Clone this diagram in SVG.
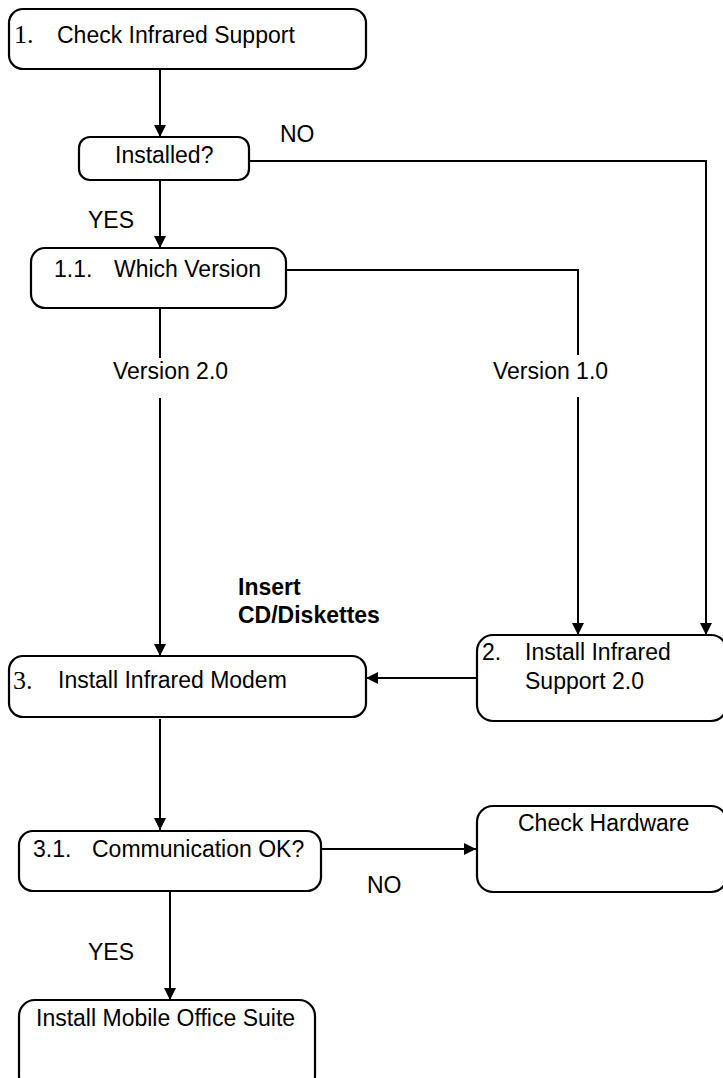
<svg xmlns="http://www.w3.org/2000/svg" width="723" height="1078" viewBox="0 0 723 1078">
<style>
.box{fill:#fff;stroke:#000;stroke-width:2.2}
.t{font-family:"Liberation Sans",Arial,sans-serif;font-size:23px;fill:#000}
.s{font-family:"Liberation Serif","Times New Roman",serif;font-size:26px;fill:#000}
.b{font-weight:bold}
.c{fill:none;stroke:#000;stroke-width:2}
</style>
<defs>
<marker id="ah" markerWidth="12" markerHeight="12" viewBox="0 0 12 12" refX="12" refY="6" orient="auto" markerUnits="userSpaceOnUse">
<path d="M0,0 L12,6 L0,12 Z" fill="#000"/>
</marker>
</defs>
<rect width="723" height="1078" fill="#fff"/>
<g id="connectors">
<line class="c" x1="160" y1="69" x2="160" y2="137" marker-end="url(#ah)"/>
<polyline class="c" points="249,161 706,161 706,635" marker-end="url(#ah)"/>
<line class="c" x1="160" y1="180" x2="160" y2="248" marker-end="url(#ah)"/>
<polyline class="c" points="286,270 578,270 578,355"/>
<line class="c" x1="578" y1="397" x2="578" y2="635" marker-end="url(#ah)"/>
<line class="c" x1="160" y1="308" x2="160" y2="358"/>
<line class="c" x1="160" y1="398" x2="160" y2="656" marker-end="url(#ah)"/>
<line class="c" x1="477" y1="678" x2="366" y2="678" marker-end="url(#ah)"/>
<line class="c" x1="160" y1="719" x2="160" y2="830" marker-end="url(#ah)"/>
<line class="c" x1="321" y1="849" x2="476" y2="849" marker-end="url(#ah)"/>
<line class="c" x1="170" y1="891" x2="170" y2="1000" marker-end="url(#ah)"/>
<text class="t" x="280" y="142">NO</text>
<text class="t" x="88" y="228">YES</text>
<text class="t" x="113" y="379">Version 2.0</text>
<text class="t" x="493" y="379">Version 1.0</text>
<text class="t b" x="238" y="595">Insert</text>
<text class="t b" x="238" y="623">CD/Diskettes</text>
<text class="t" x="367" y="893">NO</text>
<text class="t" x="88" y="960">YES</text>
</g>
<g id="n1">
<rect class="box" x="9" y="9" width="357" height="60" rx="14"/>
<text class="s" x="14" y="43">1.</text>
<text class="t" x="57" y="43">Check Infrared Support</text>
</g>
<g id="installed">
<rect class="box" x="79" y="137" width="170" height="43" rx="11"/>
<text class="t" x="115" y="163">Installed?</text>
</g>
<g id="n1_1">
<rect class="box" x="31" y="248" width="255" height="60" rx="14"/>
<text class="t" x="54" y="277">1.1.</text>
<text class="t" x="114" y="277">Which Version</text>
</g>
<g id="n2">
<rect class="box" x="477" y="635" width="250" height="86" rx="16"/>
<text class="t" x="482" y="660">2.</text>
<text class="t" x="525" y="660">Install Infrared</text>
<text class="t" x="525" y="689">Support 2.0</text>
</g>
<g id="n3">
<rect class="box" x="9" y="656" width="357" height="61" rx="14"/>
<text class="s" x="13" y="689">3.</text>
<text class="t" x="58" y="688">Install Infrared Modem</text>
</g>
<g id="n3_1">
<rect class="box" x="19" y="831" width="302" height="60" rx="14"/>
<text class="t" x="33" y="857">3.1.</text>
<text class="t" x="92" y="857">Communication OK?</text>
</g>
<g id="hardware">
<rect class="box" x="477" y="806" width="250" height="86" rx="16"/>
<text class="t" x="518" y="831">Check Hardware</text>
</g>
<g id="mobile">
<rect class="box" x="19" y="1000" width="296" height="92" rx="16"/>
<text class="t" x="36" y="1026">Install Mobile Office Suite</text>
</g>
</svg>
